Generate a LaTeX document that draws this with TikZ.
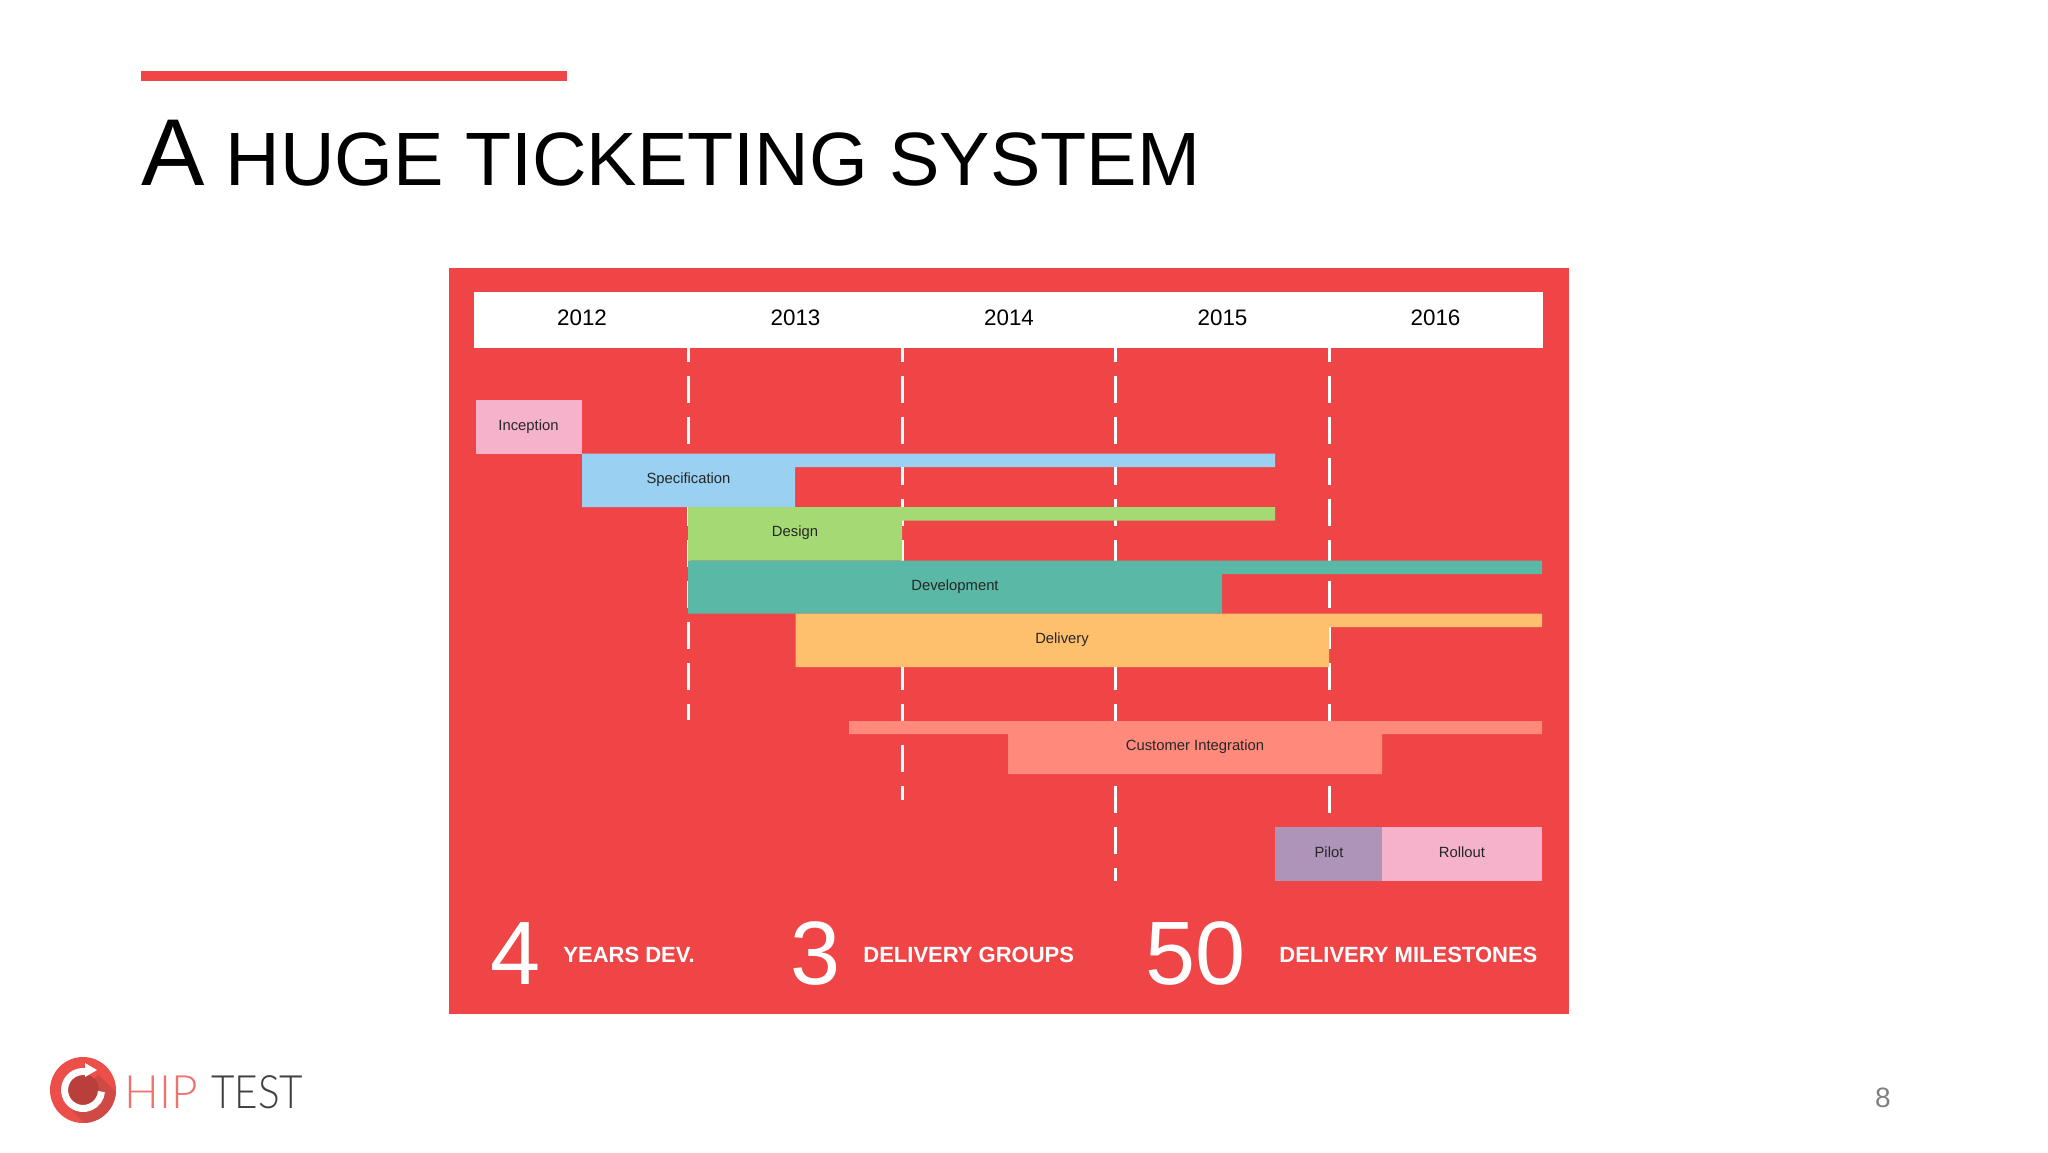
\documentclass[tikz,border=0pt]{standalone}
\usepackage{fontspec}
\setmainfont{Liberation Sans}
\newfontfamily\logofont[FakeStretch=0.88]{Lato Light}
\newfontfamily\hipfont{Lato Light}
\definecolor{panelred}{HTML}{F04546}
\definecolor{inceptionpink}{HTML}{F5B2CB}
\definecolor{specblue}{HTML}{9AD0F1}
\definecolor{designgreen}{HTML}{A4D974}
\definecolor{devteal}{HTML}{5AB9A6}
\definecolor{deliveryorange}{HTML}{FFC06D}
\definecolor{customersalmon}{HTML}{FF8A7C}
\definecolor{pilotpurple}{HTML}{AE94B8}
\definecolor{logored}{HTML}{EC4F49}
\definecolor{logodark}{HTML}{B93F3A}
\definecolor{logoshade}{HTML}{CF4A45}
\tikzset{
  yearline/.style={white,line width=1.5pt,dash pattern=on 13.75pt off 6.75pt,dash phase=6.75pt},
  yearlabel/.style={font=\fontsize{11.2}{13}\selectfont,inner sep=0pt},
  barlabel/.style={font=\fontsize{7.4}{9}\selectfont,inner sep=0pt,text=black!85},
  bignum/.style={font=\fontsize{45}{50}\selectfont,white,inner sep=0pt,anchor=base west},
  statlabel/.style={font=\bfseries\fontsize{11}{13}\selectfont,white,inner sep=0pt,anchor=base west},
  logotext/.style={font=\logofont\fontsize{23}{26}\selectfont,inner sep=0pt,anchor=base west}
}
\begin{document}
\begin{tikzpicture}[x=0.5pt,y=-0.5pt]
  \useasboundingbox (0,0) rectangle (2048,1152);
  \fill[white] (0,0) rectangle (2048,1152);
  % title
  \fill[panelred] (141,71) rectangle (567,81);
  \node[anchor=base west,inner sep=0pt] (title) at (141,185)
    {\fontsize{47.5}{52}\selectfont A\fontsize{37.8}{52}\selectfont{} HUGE TICKETING SYSTEM};
  % panel and years
  \fill[panelred] (449,268) rectangle (1569,1014);
  \fill[white] (474,292) rectangle (1543,348);
  \node[yearlabel] (y2012) at (582,318) {2012};
  \node[yearlabel] (y2013) at (795.5,318) {2013};
  \node[yearlabel] (y2014) at (1009,318) {2014};
  \node[yearlabel] (y2015) at (1222.5,318) {2015};
  \node[yearlabel] (y2016) at (1435.5,318) {2016};
  % year separators
  \coordinate (sep1a) at (688,348);
  \coordinate (sep1b) at (688,720);
  \coordinate (sep2a) at (902,348);
  \coordinate (sep2b) at (902,800);
  \coordinate (sep3a) at (1115,348);
  \coordinate (sep3b) at (1115,881);
  \coordinate (sep4a) at (1329,348);
  \coordinate (sep4b) at (1329,827);
  \draw[yearline] (sep1a) -- (sep1b);
  \draw[yearline] (sep2a) -- (sep2b);
  \draw[yearline] (sep3a) -- (sep3b);
  \draw[yearline] (sep4a) -- (sep4b);
  % phases
  \fill[inceptionpink] (475.5,400) rectangle (582,453.5);
  \node[barlabel] (inception) at (528.5,427) {Inception};
  \fill[specblue] (582,453.5) rectangle (795,507) (795,453.5) rectangle (1275,467);
  \node[barlabel] (specification) at (688.5,480) {Specification};
  \fill[designgreen] (688,507) rectangle (902,560.5) (902,507) rectangle (1275,520.5);
  \node[barlabel] (design) at (795,533) {Design};
  \fill[devteal] (688,560.5) rectangle (1222,613.5) (1222,560.5) rectangle (1542,574);
  \node[barlabel] (development) at (955,586.5) {Development};
  \fill[deliveryorange] (795.5,613.5) rectangle (1329,667) (1329,613.5) rectangle (1542,627);
  \node[barlabel] (delivery) at (1062,640) {Delivery};
  \fill[customersalmon] (1008,721) rectangle (1382,774) (849,721) rectangle (1542,734);
  \node[barlabel] (customer) at (1195,747) {Customer Integration};
  \fill[pilotpurple] (1275,827) rectangle (1382,881);
  \node[barlabel] (pilot) at (1329,852) {Pilot};
  \fill[inceptionpink] (1382,827) rectangle (1542,881);
  \node[barlabel] (rollout) at (1462,852) {Rollout};
  % figures
  \node[bignum] (years) at (490,984) {4};
  \node[statlabel] (yearstext) at (563,962) {YEARS DEV.};
  \node[bignum] (groups) at (790,984) {3};
  \node[statlabel] (groupstext) at (863,962) {DELIVERY GROUPS};
  \node[bignum] (milestones) at (1145,984) {50};
  \node[statlabel] (milestonestext) at (1279,962) {DELIVERY MILESTONES};
  % logo
  \fill[logored] (83,1090) circle (33);
  \begin{scope}
    \clip (83,1090) circle (33);
    \fill[logoshade] (67.5,1105.5) -- (107.5,1145.5) -- (138.5,1114.5) -- (98.5,1074.5) -- cycle;
  \end{scope}
  \fill[logodark] (83,1090) circle (16);
  \draw[white,line width=3.5pt] (85,1071.6) arc (-84:-355:18.5);
  \fill[white] (85,1063) -- (97,1070) -- (85,1077) -- cycle;
  \node[logotext,font=\hipfont\fontsize{23}{26}\selectfont,text=logored!80] (hip) at (124,1108) {HIP};
  \node[logotext,text=black!75] (test) at (211,1108) {TEST};
  % page number
  \node[font=\fontsize{14}{17}\selectfont,text=black!50,inner sep=0pt] (pagenum) at (1883,1098) {8};
\end{tikzpicture}
\end{document}
